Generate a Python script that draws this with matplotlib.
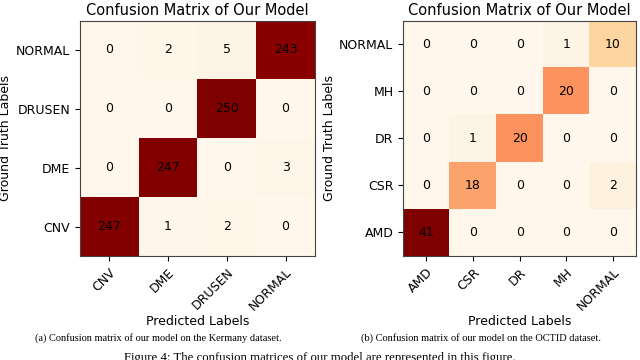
"""Two confusion matrices side by side (Kermany and OCTID)."""

import matplotlib
matplotlib.use("Agg")
import matplotlib.pyplot as plt
import numpy as np

kermany_labels = ["CNV", "DME", "DRUSEN", "NORMAL"]
# rows = ground truth (CNV at bottom), cols = predicted
kermany_cm = [
    [247, 1, 2, 0],
    [0, 247, 0, 3],
    [0, 0, 250, 0],
    [0, 2, 5, 243],
]

octid_labels = ["AMD", "CSR", "DR", "MH", "NORMAL"]
octid_cm = [
    [41, 0, 0, 0, 0],
    [0, 18, 0, 0, 2],
    [0, 1, 20, 0, 0],
    [0, 0, 0, 20, 0],
    [0, 0, 0, 1, 10],
]

caption_a = "(a) Confusion matrix of our model on the Kermany dataset."
caption_b = "(b) Confusion matrix of our model on the OCTID dataset."
fig_caption = "Figure 4: The confusion matrices of our model are represented in this figure."


def draw_cm(ax, cm, labels):
    cm = np.array(cm)
    ax.imshow(cm, cmap="OrRd", origin="lower", aspect="auto",
              vmin=0, vmax=cm.max())
    n = len(labels)
    for i in range(n):
        for j in range(n):
            ax.text(j, i, str(cm[i, j]), ha="center", va="center",
                    fontsize=9, color="black")
    ax.set_xticks(range(n))
    ax.set_yticks(range(n))
    ax.set_xticklabels(labels, rotation=45, ha="right",
                       rotation_mode="anchor", fontsize=9)
    ax.set_yticklabels(labels, fontsize=9)
    ax.set_title("Confusion Matrix of Our Model", fontsize=10.5, pad=4)
    ax.set_xlabel("Predicted Labels", fontsize=9)
    ax.set_ylabel("Ground Truth Labels", fontsize=9)
    ax.xaxis.set_label_coords(0.5, -0.25)
    ax.yaxis.set_label_coords(-0.288, 0.5)
    for sp in ax.spines.values():
        sp.set_color("#444444")


fig = plt.figure(figsize=(6.4, 3.6), dpi=100)
ax1 = fig.add_axes([0.125, 0.289, 0.367, 0.654])
ax2 = fig.add_axes([0.630, 0.289, 0.364, 0.654])

draw_cm(ax1, kermany_cm, kermany_labels)
draw_cm(ax2, octid_cm, octid_labels)

fig.text(0.248, 1 - 338 / 360, caption_a, ha="center", va="center",
         fontsize=7.5, family="Liberation Serif")
fig.text(0.752, 1 - 338 / 360, caption_b, ha="center", va="center",
         fontsize=7.5, family="Liberation Serif")
fig.text(0.5, 1 - 352 / 360, fig_caption, ha="center", va="top",
         fontsize=9.2, family="Liberation Serif")

fig.savefig("out.png", dpi=100)
